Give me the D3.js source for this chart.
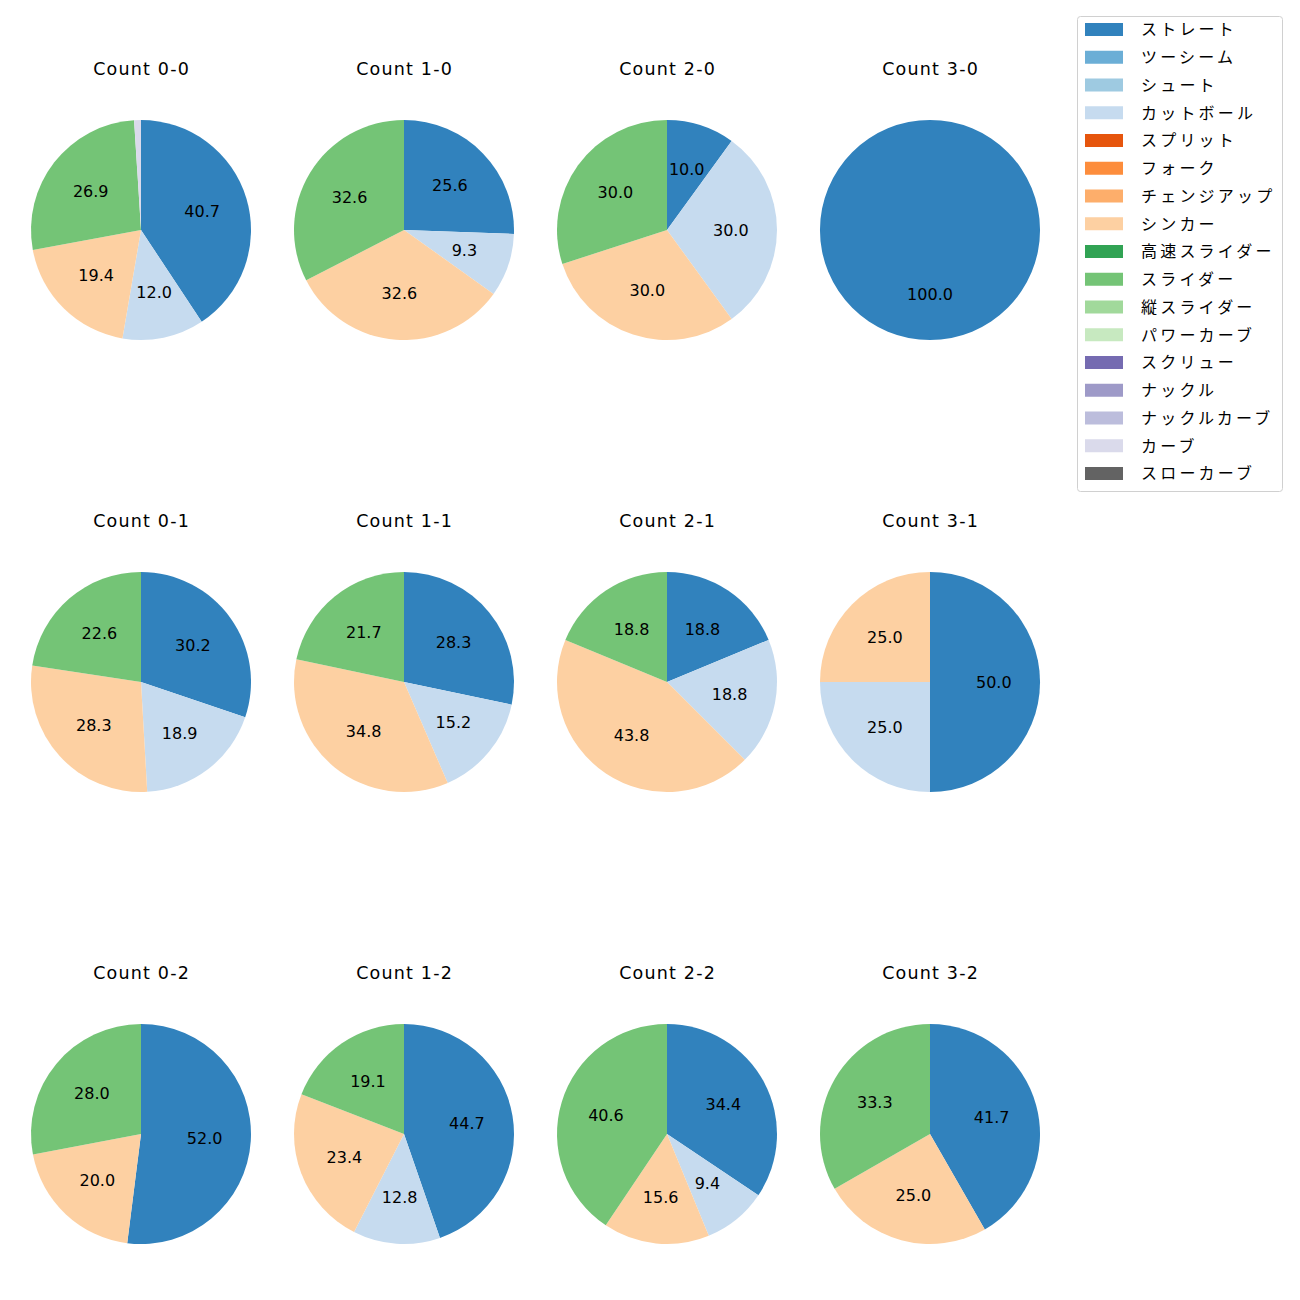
<!DOCTYPE html>
<html><head><meta charset="utf-8">
<script src="https://cdn.jsdelivr.net/npm/d3@7"></script>
<style>body{margin:0;background:#fff;} text{font-family:"DejaVu Sans","Noto Sans CJK JP",sans-serif;} .jp{font-family:"Noto Sans CJK JP",sans-serif;}</style>
</head><body>
<svg id="c" width="1300" height="1300"></svg>
<script>
const pitchTypes = ["ストレート","ツーシーム","シュート","カットボール","スプリット","フォーク","チェンジアップ","シンカー","高速スライダー","スライダー","縦スライダー","パワーカーブ","スクリュー","ナックル","ナックルカーブ","カーブ","スローカーブ"];
const pitchColors = ["#3182bd","#6baed6","#9ecae1","#c6dbef","#e6550d","#fd8d3c","#fdae6b","#fdd0a2","#31a354","#74c476","#a1d99b","#c7e9c0","#756bb1","#9e9ac8","#bcbddc","#dadaeb","#636363"];
const countTitles = ["Count 0-0","Count 1-0","Count 2-0","Count 3-0","Count 0-1","Count 1-1","Count 2-1","Count 3-1","Count 0-2","Count 1-2","Count 2-2","Count 3-2"];
// values per pie: [pitch type, percent]
const pie00 = [["ストレート",40.7],["カットボール",12.0],["シンカー",19.4],["スライダー",26.9],["カーブ",1.0]];
const pie10 = [["ストレート",25.6],["カットボール",9.3],["シンカー",32.6],["スライダー",32.6]];
const pie20 = [["ストレート",10.0],["カットボール",30.0],["シンカー",30.0],["スライダー",30.0]];
const pie30 = [["ストレート",100.0]];
const pie01 = [["ストレート",30.2],["カットボール",18.9],["シンカー",28.3],["スライダー",22.6]];
const pie11 = [["ストレート",28.3],["カットボール",15.2],["シンカー",34.8],["スライダー",21.7]];
const pie21 = [["ストレート",18.75],["カットボール",18.75],["シンカー",43.75],["スライダー",18.75]];
const pie31 = [["ストレート",50.0],["カットボール",25.0],["シンカー",25.0]];
const pie02 = [["ストレート",52.0],["シンカー",20.0],["スライダー",28.0]];
const pie12 = [["ストレート",44.7],["カットボール",12.8],["シンカー",23.4],["スライダー",19.1]];
const pie22 = [["ストレート",34.4],["カットボール",9.4],["シンカー",15.6],["スライダー",40.6]];
const pie32 = [["ストレート",41.7],["シンカー",25.0],["スライダー",33.3]];
const allPies = [pie00,pie10,pie20,pie30,pie01,pie11,pie21,pie31,pie02,pie12,pie22,pie32];

const svg = d3.select("#c");
const color = d3.scaleOrdinal().domain(pitchTypes).range(pitchColors);
const colX = d3.scaleLinear().domain([0,3]).range([141,930]);
const rowY = d3.scaleLinear().domain([0,2]).range([230,1134]);
const R = 110;
const pieGen = d3.pie().sort(null).value(d=>d[1]).startAngle(0).endAngle(2*Math.PI);
const arc = d3.arc().innerRadius(0).outerRadius(R);
const labelArc = d3.arc().innerRadius(R*0.58).outerRadius(R*0.58);

allPies.forEach((vals,i)=>{
  const cx = colX(i%4), cy = rowY(Math.floor(i/4));
  const g = svg.append("g").attr("transform",`translate(${cx},${cy})`);
  svg.append("text").attr("x",cx+0.6).attr("y",cy-155).attr("text-anchor","middle")
    .attr("font-size","17.5px").attr("letter-spacing","1.2px").attr("fill","#000").text(countTitles[i]);
  const arcs = pieGen(vals);
  g.selectAll("path").data(arcs).join("path").attr("d",arc).attr("fill",d=>color(d.data[0]));
  g.selectAll("text").data(arcs.filter(d=>d.data[1]>=3)).join("text")
    .attr("transform",d=>`translate(${labelArc.centroid(d)})`)
    .attr("text-anchor","middle").attr("dy","0.36em").attr("font-size","16px").attr("fill","#000")
    .text(d=>d.data[1].toFixed(1));
});

// legend
const lg = svg.append("g");
lg.append("rect").attr("x",1077.5).attr("y",16.5).attr("width",205).attr("height",475).attr("rx",3)
  .attr("fill","#fff").attr("stroke","#d0d0d0");
const ly = d3.scaleLinear().domain([0,pitchTypes.length-1]).range([29.5,473.5]);
pitchTypes.forEach((p,i)=>{
  lg.append("rect").attr("x",1085).attr("y",ly(i)-6.5).attr("width",38).attr("height",13).attr("fill",color(p));
  lg.append("text").attr("class","jp").attr("x",1141).attr("y",ly(i)).attr("dy","0.36em").attr("font-size","16px")
    .attr("letter-spacing","3.2px").attr("fill","#000").text(p);
});
</script>
</body></html>
